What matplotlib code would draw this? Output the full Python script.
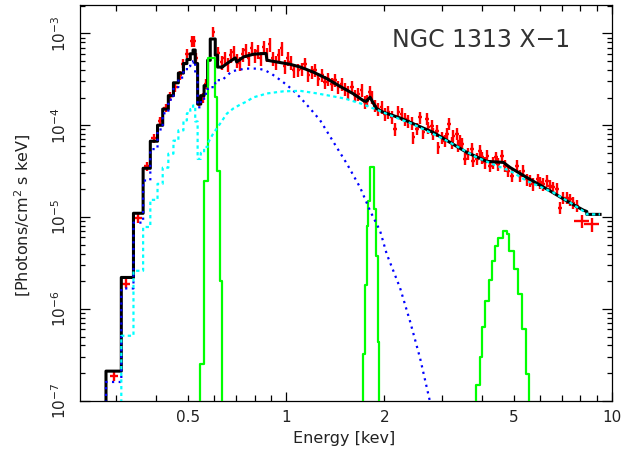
import matplotlib
matplotlib.use('Agg')
import matplotlib.pyplot as plt
from matplotlib.ticker import FixedLocator, FuncFormatter, LogLocator, LogFormatterMathtext, NullFormatter

plt.rcParams['font.family'] = ['DejaVu Sans']
plt.rcParams['mathtext.fontset'] = 'dejavusans'

# ---- data points (keV, photons/cm^2/s/keV) ----
data_energy = [
    0.297, 0.323, 0.352, 0.374, 0.394, 0.411, 0.428, 0.441, 0.457, 0.471,
    0.484, 0.498, 0.514, 0.522, 0.530, 0.541, 0.555, 0.568, 0.598,
    0.620, 0.634, 0.647, 0.662, 0.676, 0.690, 0.705, 0.720, 0.736, 0.751,
    0.767, 0.784, 0.800, 0.818, 0.835, 0.853, 0.871, 0.890, 0.909, 0.929,
    0.948, 0.969, 0.989, 1.011, 1.032, 1.054,
    1.091, 1.117, 1.144, 1.171, 1.199, 1.227, 1.256, 1.287, 1.317, 1.348,
    1.381, 1.413, 1.447, 1.482, 1.517, 1.553, 1.591, 1.628, 1.667, 1.707,
    1.747, 1.769, 1.810, 1.832, 1.875, 1.920, 1.966, 2.012, 2.060, 2.110,
    2.160, 2.211, 2.264, 2.317, 2.372, 2.430,
    2.458, 2.518, 2.576, 2.637, 2.701, 2.732, 2.798, 2.830, 2.900, 2.933,
    3.004, 3.074, 3.111, 3.168, 3.224, 3.260, 3.339, 3.377, 3.418, 3.459,
    3.540, 3.624, 3.712, 3.754, 3.846, 3.937, 3.985, 4.078, 4.145, 4.225,
    4.324, 4.408, 4.479, 4.588, 4.696, 4.807, 4.924, 5.103, 5.223, 5.346,
    5.475,
    5.605, 5.737, 5.942, 6.014, 6.157, 6.306, 6.454, 6.605, 6.767, 6.926,
    7.090, 7.262, 7.434, 7.609, 7.794, 8.075, 8.665,
]
data_flux = [
    1.86e-7, 1.89e-6, 9.8e-6, 3.56e-5, 7.28e-5, 1.12e-4, 1.55e-4, 2.06e-4, 2.61e-4, 3.5e-4,
    4.7e-4, 6.04e-4, 8.3e-4, 8.3e-4, 5.46e-4, 1.86e-4, 2.0e-4, 2.84e-4, 1.04e-3,
    6.09e-4, 4.85e-4, 5.37e-4, 4.61e-4, 5.79e-4, 6.24e-4, 5.11e-4, 4.73e-4, 5.94e-4, 6.56e-4,
    5.37e-4, 6.90e-4, 5.79e-4, 6.40e-4, 5.37e-4, 7.08e-4, 5.94e-4, 7.64e-4, 5.37e-4, 4.85e-4,
    5.79e-4, 6.90e-4, 4.40e-4, 5.37e-4, 4.85e-4, 3.97e-4,
    3.97e-4, 4.14e-4, 4.70e-4, 3.50e-4, 3.80e-4, 3.97e-4, 3.22e-4, 3.50e-4, 2.95e-4, 3.22e-4,
    2.84e-4, 3.08e-4, 2.61e-4, 2.84e-4, 2.50e-4, 2.30e-4, 2.61e-4, 2.11e-4, 2.21e-4, 2.40e-4,
    1.79e-4, 1.86e-4, 2.30e-4, 2.02e-4, 1.64e-4, 1.51e-4, 1.57e-4, 1.33e-4, 1.39e-4, 1.22e-4,
    9.14e-5, 1.39e-4, 1.33e-4, 1.17e-4, 1.12e-4, 1.05e-4,
    7.40e-5, 9.14e-5, 1.22e-4, 8.38e-5, 1.17e-4, 9.51e-5, 9.93e-5, 8.05e-5, 8.75e-5, 5.74e-5,
    7.40e-5, 6.80e-5, 8.05e-5, 1.04e-4, 6.52e-5, 7.72e-5, 8.05e-5, 6.00e-5, 6.80e-5, 6.26e-5,
    4.29e-5, 4.87e-5, 5.52e-5, 4.11e-5, 4.29e-5, 5.28e-5, 4.47e-5, 3.94e-5, 4.66e-5, 3.62e-5,
    3.94e-5, 4.47e-5, 3.78e-5, 4.66e-5, 3.62e-5, 3.19e-5, 2.82e-5, 3.62e-5, 2.82e-5, 3.19e-5,
    2.59e-5,
    2.48e-5, 2.29e-5, 2.59e-5, 2.38e-5, 2.29e-5, 2.48e-5, 2.19e-5, 2.10e-5, 2.02e-5, 1.27e-5,
    1.63e-5, 1.63e-5, 1.57e-5, 1.44e-5, 1.32e-5, 9.06e-6, 8.34e-6,
]
# fractional 1-sigma flux errors and fractional bin half-widths
flux_rel_err = [
    0.11, 0.11, 0.11, 0.11, 0.11, 0.11, 0.11, 0.11, 0.11, 0.11,
    0.11, 0.11, 0.14, 0.14, 0.12, 0.12, 0.12, 0.12, 0.13,
    0.18, 0.18, 0.18, 0.18, 0.18, 0.18, 0.18, 0.18, 0.18, 0.18,
    0.18, 0.18, 0.18, 0.18, 0.18, 0.18, 0.18, 0.18, 0.18, 0.18,
    0.18, 0.18, 0.18, 0.18, 0.18, 0.18,
    0.16, 0.16, 0.16, 0.16, 0.16, 0.16, 0.16, 0.16, 0.16, 0.16,
    0.16, 0.16, 0.16, 0.16, 0.16, 0.16, 0.16, 0.16, 0.16, 0.16,
    0.16, 0.16, 0.16, 0.16, 0.16, 0.16, 0.16, 0.16, 0.16, 0.16,
    0.16, 0.16, 0.16, 0.16, 0.16, 0.16,
    0.15, 0.15, 0.15, 0.15, 0.15, 0.15, 0.15, 0.15, 0.15, 0.15,
    0.15, 0.15, 0.15, 0.15, 0.15, 0.15, 0.15, 0.15, 0.15, 0.15,
    0.15, 0.15, 0.15, 0.15, 0.15, 0.15, 0.15, 0.15, 0.15, 0.15,
    0.15, 0.15, 0.15, 0.15, 0.15, 0.15, 0.15, 0.15, 0.15, 0.15,
    0.15,
    0.15, 0.15, 0.15, 0.15, 0.15, 0.15, 0.15, 0.15, 0.15, 0.15,
    0.15, 0.15, 0.15, 0.15, 0.15, 0.17, 0.17,
]
bin_rel_halfwidth = [
    0.028, 0.028, 0.028, 0.021, 0.021, 0.018, 0.018, 0.018, 0.018, 0.018,
    0.015, 0.015, 0.013, 0.013, 0.013, 0.013, 0.013, 0.013, 0.013,
    0.012, 0.012, 0.012, 0.012, 0.012, 0.012, 0.012, 0.012, 0.012, 0.012,
    0.012, 0.012, 0.012, 0.012, 0.012, 0.012, 0.012, 0.012, 0.012, 0.012,
    0.012, 0.012, 0.012, 0.012, 0.012, 0.012,
    0.012, 0.012, 0.012, 0.012, 0.012, 0.012, 0.012, 0.012, 0.012, 0.012,
    0.012, 0.012, 0.012, 0.012, 0.012, 0.012, 0.012, 0.012, 0.012, 0.012,
    0.012, 0.012, 0.012, 0.012, 0.012, 0.012, 0.012, 0.012, 0.012, 0.012,
    0.012, 0.012, 0.012, 0.012, 0.012, 0.012,
    0.013, 0.013, 0.013, 0.013, 0.013, 0.013, 0.013, 0.013, 0.013, 0.013,
    0.013, 0.013, 0.013, 0.013, 0.013, 0.013, 0.013, 0.013, 0.013, 0.013,
    0.013, 0.013, 0.013, 0.013, 0.013, 0.013, 0.013, 0.013, 0.013, 0.013,
    0.013, 0.013, 0.013, 0.013, 0.013, 0.013, 0.013, 0.013, 0.013, 0.013,
    0.013,
    0.015, 0.015, 0.015, 0.015, 0.015, 0.015, 0.015, 0.015, 0.015, 0.015,
    0.015, 0.015, 0.015, 0.015, 0.015, 0.05, 0.05,
]

# ---- total model: coarse bins below 0.635 keV, fine curve above ----
model_lo_edges = [0.280, 0.312, 0.340, 0.364, 0.383, 0.403, 0.418, 0.435, 0.451, 0.467, 0.484, 0.496,
                  0.508, 0.518, 0.526, 0.535, 0.547, 0.560, 0.574, 0.585, 0.606, 0.616, 0.635]
model_lo_flux = [2.1e-7, 2.2e-6, 1.1e-5, 3.4e-5, 6.7e-5, 1.0e-4, 1.5e-4, 2.1e-4, 2.9e-4, 3.7e-4, 4.7e-4,
                 5.2e-4, 6.0e-4, 6.6e-4, 4.7e-4, 1.7e-4, 2.1e-4, 2.7e-4, 5.1e-4, 8.7e-4, 5.8e-4, 4.3e-4]
model_hi_energy = [0.635, 0.658, 0.698, 0.705, 0.740, 0.794, 0.852, 0.868, 0.873, 0.936, 1.029, 1.104,
                   1.210, 1.333, 1.464, 1.605, 1.723, 1.759, 1.810, 1.853, 1.898, 1.984, 2.237, 2.824,
                   3.583, 4.127, 4.640, 4.865, 5.474, 6.453, 7.262, 8.166, 8.37, 8.37, 9.19]
model_hi_flux = [4.27e-4, 4.70e-4, 5.41e-4, 4.89e-4, 5.55e-4, 5.94e-4, 6.04e-4, 6.04e-4, 5.11e-4, 4.89e-4,
                 4.61e-4, 4.31e-4, 3.80e-4, 3.22e-4, 2.65e-4, 2.21e-4, 1.86e-4, 1.82e-4, 2.02e-4, 1.73e-4,
                 1.51e-4, 1.39e-4, 1.20e-4, 8.38e-5, 5.07e-5, 4.04e-5, 3.94e-5, 3.47e-5, 2.70e-5, 1.93e-5,
                 1.50e-5, 1.19e-5, 1.15e-5, 1.07e-5, 1.07e-5]

# ---- thermal component (blue) ----
therm_lo_edges = model_lo_edges
therm_lo_flux = [1.6e-7, 1.67e-6, 8.7e-6, 2.5e-5, 5.5e-5, 9.0e-5, 1.35e-4, 1.9e-4, 2.6e-4, 3.3e-4, 3.9e-4,
                 4.4e-4, 4.8e-4, 5.0e-4, 3.6e-4, 1.57e-4, 1.86e-4, 2.2e-4, 2.5e-4, 2.6e-4, 2.9e-4, 3.1e-4]
therm_hi_energy = [0.635, 0.681, 0.748, 0.822, 0.862, 0.906, 0.972, 1.043, 1.104, 1.185, 1.272, 1.430,
                   1.536, 1.687, 1.810, 1.943, 2.036, 2.237, 2.401, 2.577, 2.765]
therm_hi_flux = [3.08e-4, 3.87e-4, 4.14e-4, 4.14e-4, 3.97e-4, 3.59e-4, 3.01e-4, 2.46e-4, 2.01e-4, 1.52e-4,
                 1.13e-4, 5.74e-5, 3.81e-5, 2.10e-5, 1.17e-5, 7.05e-6, 3.95e-6, 1.69e-6, 7.3e-7, 2.9e-7, 9.7e-8]

# ---- continuum component (cyan) ----
cont_lo_edges = [0.312, 0.340, 0.364, 0.383, 0.403, 0.418, 0.435, 0.451, 0.467, 0.484, 0.496, 0.508,
                 0.518, 0.526, 0.535, 0.547, 0.560, 0.574]
cont_lo_flux = [5.1e-7, 2.6e-6, 7.8e-6, 1.54e-5, 2.3e-5, 3.45e-5, 4.9e-5, 6.8e-5, 8.8e-5, 1.13e-4, 1.35e-4,
                1.5e-4, 1.64e-4, 1.1e-4, 4.3e-5, 5.0e-5, 5.8e-5]
cont_hi_energy = [0.574, 0.597, 0.627, 0.658, 0.688, 0.723, 0.758, 0.792, 0.832, 0.873, 0.979, 1.104,
                  1.227, 1.348, 1.517, 1.707, 1.920, 2.160, 2.430, 3.038, 3.846, 4.429, 4.865, 5.474,
                  6.604, 7.433, 8.364, 8.364, 9.19]
cont_hi_flux = [6.3e-5, 8.11e-5, 1.04e-4, 1.34e-4, 1.52e-4, 1.68e-4, 1.82e-4, 2.01e-4, 2.11e-4, 2.22e-4,
                2.34e-4, 2.37e-4, 2.24e-4, 2.11e-4, 1.95e-4, 1.71e-4, 1.45e-4, 1.22e-4, 1.04e-4, 7.10e-5,
                4.47e-5, 3.62e-5, 3.19e-5, 2.48e-5, 1.85e-5, 1.44e-5, 1.10e-5, 1.07e-5, 1.07e-5]

# ---- gaussian lines (green) ----
line1_edges = [0.545, 0.560, 0.577, 0.606, 0.615, 0.625, 0.635]
line1_flux = [2.5e-7, 2.45e-5, 5.4e-4, 2.05e-4, 3.2e-5, 2.0e-6]
line2_edges = [1.726, 1.747, 1.769, 1.789, 1.810, 1.862, 1.888, 1.911, 1.933]
line2_flux = [3.24e-7, 1.84e-6, 8.0e-6, 1.50e-5, 3.47e-5, 1.22e-5, 3.75e-6, 4.34e-7]
line3_edges = [3.819, 3.937, 4.001, 4.078, 4.195, 4.293, 4.376, 4.479, 4.620, 4.753, 4.842, 5.005,
               5.159, 5.306, 5.447, 5.576]
line3_flux = [1.50e-7, 3.02e-7, 6.28e-7, 1.23e-6, 2.09e-6, 3.31e-6, 4.83e-6, 5.96e-6, 7.05e-6, 6.48e-6,
              4.26e-6, 2.72e-6, 1.45e-6, 6.01e-7, 1.95e-7]

xtick_minor = [0.3, 0.4, 0.5, 0.6, 0.7, 0.8, 0.9, 2, 3, 4, 5, 6, 7, 8, 9]
xtick_labelled = [0.5, 2, 5]

XMIN, XMAX = 0.233, 10.0
YMIN, YMAX = 1e-7, 2.04e-3
FLOOR = YMIN / 10


def steps(edges, vals, close=False):
    xs = [edges[0]]
    ys = [FLOOR]
    for i, v in enumerate(vals):
        xs += [edges[i], edges[i + 1]]
        ys += [v, v]
    if close:
        xs.append(edges[-1])
        ys.append(FLOOR)
    return xs, ys


fig = plt.figure(figsize=(6.22, 4.55), dpi=100)
ax = fig.add_axes([0.1286, 0.1193, 0.8553, 0.8697])
ax.set_xscale('log')
ax.set_yscale('log')
ax.set_xlim(XMIN, XMAX)
ax.set_ylim(YMIN, YMAX)

xerr = [e * w for e, w in zip(data_energy, bin_rel_halfwidth)]
yerr = [f * r for f, r in zip(data_flux, flux_rel_err)]
ax.errorbar(data_energy, data_flux, xerr=xerr, yerr=yerr, fmt='none',
            ecolor='#ff0000', elinewidth=1.7, capsize=0, zorder=2)

xs, ys = steps(model_lo_edges, model_lo_flux)
ax.plot(xs + model_hi_energy, ys + model_hi_flux, color='black', lw=2.2, zorder=3)

for edges, vals in [(line1_edges, line1_flux), (line2_edges, line2_flux), (line3_edges, line3_flux)]:
    xs, ys = steps(edges, vals, close=True)
    ax.plot(xs, ys, color='#00ff00', lw=1.6, zorder=4)

xs, ys = steps(therm_lo_edges, therm_lo_flux)
ax.plot(xs + therm_hi_energy, ys + therm_hi_flux, color='#0000ff', lw=1.6,
        ls=(0, (1, 2)), zorder=5)

xs, ys = steps(cont_lo_edges, cont_lo_flux)
ax.plot(xs + cont_hi_energy, ys + cont_hi_flux, color='#00ffff', lw=1.6,
        ls=(0, (1.5, 1.5)), zorder=5)

# PGPLOT-like frame and ticks
for sp in ax.spines.values():
    sp.set_linewidth(0.9)
ax.xaxis.set_major_locator(FixedLocator([1, 10]))
ax.xaxis.set_minor_locator(FixedLocator(xtick_minor))
ax.xaxis.set_major_formatter(FuncFormatter(lambda v, p: f'{v:g}'))
ax.xaxis.set_minor_formatter(FuncFormatter(lambda v, p: f'{v:g}' if v in xtick_labelled else ''))
ax.yaxis.set_major_locator(LogLocator(base=10, numticks=20))
ax.yaxis.set_minor_locator(LogLocator(base=10, subs=range(2, 10), numticks=20))
ax.yaxis.set_major_formatter(LogFormatterMathtext())
ax.yaxis.set_minor_formatter(NullFormatter())

ax.tick_params(which='both', direction='in', top=True, right=True,
               labelsize=11, labelcolor='#222222', width=0.9)
ax.tick_params(axis='x', which='major', length=6.5, pad=7)
ax.tick_params(axis='x', which='minor', length=4.5, pad=7)
ax.tick_params(axis='y', which='major', length=7.5, pad=8, labelrotation=90)
ax.tick_params(axis='y', which='minor', length=3.5)
for lab in ax.get_yticklabels():
    lab.set_va('center')

ax.set_xlabel('Energy [kev]', fontsize=11.5, color='#222222')
ax.xaxis.set_label_coords(0.496, -0.0766)
ax.set_ylabel('[Photons/cm$^2$ s keV]', fontsize=11.5, color='#222222')
ax.yaxis.set_label_coords(-0.089, 0.469)

ax.text(0.754, 0.9115, 'NGC 1313 X\u22121', transform=ax.transAxes,
        ha='center', va='center', fontsize=17, color='#333333')

fig.savefig('out.png', dpi=100)
